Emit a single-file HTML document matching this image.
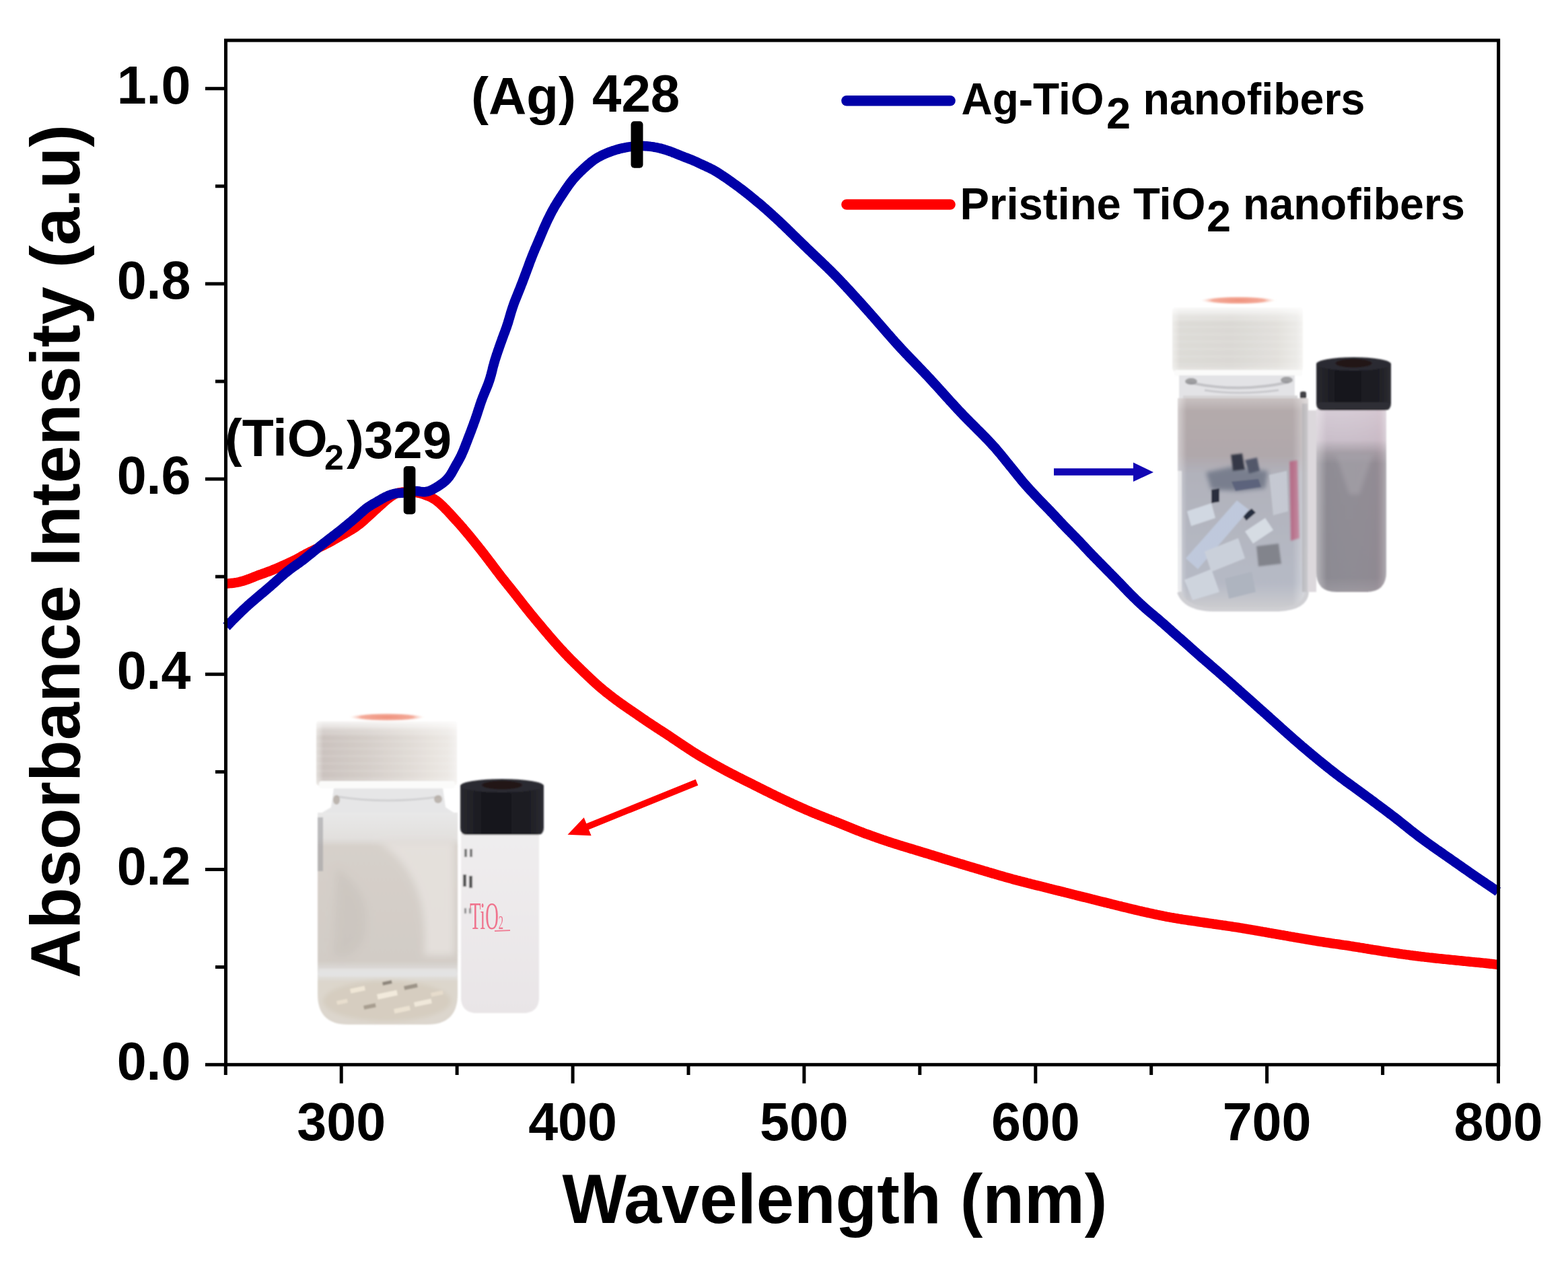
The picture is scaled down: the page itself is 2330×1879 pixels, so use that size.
<!DOCTYPE html>
<html><head><meta charset="utf-8"><title>Absorbance spectra</title>
<style>html,body{margin:0;padding:0;background:#fff;overflow:hidden;width:2330px;height:1879px;}svg{display:block;}</style>
</head><body>
<svg width="2330" height="1879" viewBox="0 0 2330 1879">
<rect width="2330" height="1879" fill="#ffffff"/>

<defs>
 <filter id="soft" x="-5%" y="-5%" width="110%" height="110%"><feGaussianBlur stdDeviation="1.2"/></filter>
 <filter id="soft3" x="-20%" y="-20%" width="140%" height="140%"><feGaussianBlur stdDeviation="3"/></filter>
 <filter id="soft6" x="-30%" y="-30%" width="160%" height="160%"><feGaussianBlur stdDeviation="6"/></filter>
 <linearGradient id="capg" x1="0" y1="0" x2="1" y2="0">
  <stop offset="0" stop-color="#eeedea"/><stop offset="0.06" stop-color="#dddbd7"/>
  <stop offset="0.45" stop-color="#dad8d4"/><stop offset="0.8" stop-color="#e2e0dc"/>
  <stop offset="0.95" stop-color="#ebeae7"/><stop offset="1" stop-color="#f5f4f2"/>
 </linearGradient>
 <linearGradient id="capgL" x1="0" y1="0" x2="1" y2="0">
  <stop offset="0" stop-color="#e4e0dc"/><stop offset="0.05" stop-color="#cbc3bf"/>
  <stop offset="0.35" stop-color="#d4cdc8"/><stop offset="0.7" stop-color="#e2ddd8"/>
  <stop offset="0.93" stop-color="#ece8e4"/><stop offset="1" stop-color="#f4f2f0"/>
 </linearGradient>
 <linearGradient id="capv" x1="0" y1="0" x2="0" y2="1">
  <stop offset="0" stop-color="#ffffff" stop-opacity="0.85"/><stop offset="0.14" stop-color="#ffffff" stop-opacity="0.25"/>
  <stop offset="0.25" stop-color="#ffffff" stop-opacity="0"/>
  <stop offset="0.88" stop-color="#ffffff" stop-opacity="0"/><stop offset="1" stop-color="#ffffff" stop-opacity="0.4"/>
 </linearGradient>
 <pattern id="hstr" width="10" height="11" patternUnits="userSpaceOnUse">
  <rect x="0" y="0" width="10" height="4" fill="#ffffff" opacity="0.07"/>
 </pattern>
 <pattern id="ribs" width="9" height="10" patternUnits="userSpaceOnUse">
  <rect width="9" height="10" fill="none"/><rect x="0" y="0" width="3" height="10" fill="#c4c1bc" opacity="0.10"/>
 </pattern>
 <linearGradient id="jarU" x1="0" y1="0" x2="0" y2="1">
  <stop offset="0" stop-color="#c6bebe"/><stop offset="0.06" stop-color="#b0a6a7"/>
  <stop offset="0.27" stop-color="#aca3a7"/><stop offset="0.36" stop-color="#adaeb8"/>
  <stop offset="0.88" stop-color="#b2b6c2"/><stop offset="1" stop-color="#cacacd"/>
 </linearGradient>
 <linearGradient id="jarUx" x1="0" y1="0" x2="1" y2="0">
  <stop offset="0" stop-color="#ffffff" stop-opacity="0.45"/><stop offset="0.07" stop-color="#ffffff" stop-opacity="0.05"/>
  <stop offset="0.88" stop-color="#ffffff" stop-opacity="0.05"/><stop offset="1" stop-color="#ffffff" stop-opacity="0.5"/>
 </linearGradient>
 <linearGradient id="vialU" x1="0" y1="0" x2="0" y2="1">
  <stop offset="0" stop-color="#d6ccd6"/><stop offset="0.17" stop-color="#cabfca"/>
  <stop offset="0.24" stop-color="#a29ca4"/><stop offset="0.3" stop-color="#8f8c94"/>
  <stop offset="0.92" stop-color="#8c8a92"/><stop offset="1" stop-color="#9a979e"/>
 </linearGradient>
 <linearGradient id="vialUx" x1="0" y1="0" x2="1" y2="0">
  <stop offset="0" stop-color="#ffffff" stop-opacity="0.35"/><stop offset="0.15" stop-color="#ffffff" stop-opacity="0"/>
  <stop offset="0.85" stop-color="#c08090" stop-opacity="0.06"/><stop offset="1" stop-color="#ffffff" stop-opacity="0.3"/>
 </linearGradient>
 <linearGradient id="jarL" x1="0" y1="0" x2="0" y2="1">
  <stop offset="0" stop-color="#e8e8e8"/><stop offset="0.12" stop-color="#e2e0de"/>
  <stop offset="0.16" stop-color="#d6d0ca"/><stop offset="0.7" stop-color="#d2ccc6"/>
  <stop offset="0.76" stop-color="#e2e2e2"/><stop offset="0.8" stop-color="#dcd6cc"/>
  <stop offset="1" stop-color="#dcd6ce"/>
 </linearGradient>
 <linearGradient id="vialL" x1="0" y1="0" x2="0" y2="1">
  <stop offset="0" stop-color="#efedee"/><stop offset="1" stop-color="#e9e5e7"/>
 </linearGradient>
 <radialGradient id="orng" cx="0.5" cy="0.5" r="0.5">
  <stop offset="0" stop-color="#ef8f7a"/><stop offset="0.7" stop-color="#f4ab9a"/><stop offset="1" stop-color="#fbe2da" stop-opacity="0"/>
 </radialGradient>
 <linearGradient id="capblk" x1="0" y1="0" x2="1" y2="0">
  <stop offset="0" stop-color="#2a2a30"/><stop offset="0.3" stop-color="#16161c"/><stop offset="0.8" stop-color="#1c1c22"/><stop offset="1" stop-color="#2c2c32"/>
 </linearGradient>
</defs>

<g filter="url(#soft)">
<ellipse cx="1840" cy="446.5" rx="56" ry="6" fill="url(#orng)"/>
<rect x="1742" y="457" width="194" height="96" rx="6" fill="url(#capg)"/>
<rect x="1742" y="457" width="194" height="96" rx="6" fill="url(#hstr)"/>
<rect x="1742" y="457" width="194" height="96" rx="6" fill="url(#capv)"/>
<rect x="1745" y="550" width="190" height="9" rx="3" fill="#fbfbfa"/>
<rect x="1752" y="558" width="172" height="34" fill="#e3e3e6"/>
<path d="M1765,568 Q1840,585 1915,568" stroke="#b9b9be" stroke-width="4" fill="none" opacity="0.8"/>
<path d="M1790,580 Q1840,588 1900,580" stroke="#c8c8cc" stroke-width="3" fill="none"/>
<rect x="1758" y="588" width="170" height="6" fill="#d6d4d6"/>
<rect x="1932" y="582" width="9" height="24" rx="3" fill="#2c2c32" opacity="0.9"/>
<ellipse cx="1770" cy="567" rx="9" ry="5" fill="#8e8e92" opacity="0.8"/>
<ellipse cx="1912" cy="565" rx="9" ry="5" fill="#8e8e92" opacity="0.8"/>
<path d="M1750,592 L1944,592 L1944,868 Q1944,904 1906,905 L1790,905 Q1750,904 1750,868 Z" fill="url(#jarU)"/>
<g>
<path d="M1792,702 L1830,694 L1884,700 L1880,726 L1840,730 L1800,728 Z" fill="#727888" filter="url(#soft3)"/>
<path d="M1829,676 L1846,674 L1850,698 L1832,700 Z" fill="#2a2e3c" filter="url(#soft)"/>
<path d="M1850,684 L1868,680 L1872,700 L1856,704 Z" fill="#4a5064" filter="url(#soft)"/>
<path d="M1800,728 L1812,726 L1812,746 L1800,748 Z" fill="#1e2232"/>
<path d="M1846,766 L1860,756 L1866,762 L1852,774 Z" fill="#1c2236"/>
<path d="M1830,716 L1870,712 L1874,724 L1836,730 Z" fill="#4c5470" opacity="0.8"/>
<path d="M1762,830 L1838,744 L1856,758 L1780,846 Z" fill="#bcc6da"/>
<path d="M1764,760 L1800,748 L1806,770 L1770,782 Z" fill="#cfd6e0"/>
<path d="M1850,790 L1880,770 L1892,788 L1862,808 Z" fill="#d4dae2"/>
<path d="M1790,820 L1840,800 L1850,830 L1800,850 Z" fill="#c8ced8"/>
<path d="M1760,862 L1800,846 L1812,880 L1772,892 Z" fill="#ccd2dc"/>
<path d="M1820,860 L1860,850 L1866,880 L1826,890 Z" fill="#aab0bc"/>
<path d="M1867,812 L1900,808 L1904,838 L1870,842 Z" fill="#7c7e86" filter="url(#soft)"/>
<path d="M1886,706 L1912,700 L1914,760 L1892,766 Z" fill="#c2c6d0"/>
<path d="M1916,686 L1928,684 L1931,800 L1918,804 Z" fill="#b45878" opacity="0.8" filter="url(#soft)"/>
<rect x="1935" y="600" width="8" height="280" fill="#8c8a90" opacity="0.7"/>
<rect x="1750" y="700" width="6" height="180" fill="#eeeef0" opacity="0.7"/>
</g>
<path d="M1750,592 L1944,592 L1944,868 Q1944,904 1906,905 L1790,905 Q1750,904 1750,868 Z" fill="url(#jarUx)"/>
<path d="M1752,880 Q1760,904 1800,906 L1900,906 Q1940,904 1942,880" stroke="#cfcfd3" stroke-width="6" fill="none"/>
<path d="M1956,608 L2060,608 L2060,850 Q2060,880 2030,880 L1986,880 Q1956,880 1956,850 Z" fill="url(#vialU)"/>
<path d="M1956,608 L2060,608 L2060,850 Q2060,880 2030,880 L1986,880 Q1956,880 1956,850 Z" fill="url(#vialUx)"/>
<path d="M1985,675 L2040,675 L2020,735 L2005,735 Z" fill="#a8a4ac" opacity="0.6" filter="url(#soft3)"/>
<rect x="1943" y="610" width="13" height="270" fill="#d8d4d8" opacity="0.9"/>
<path d="M1956,541 L1956,600 Q1956,610 1966,610 L2057,610 Q2067,610 2067,600 L2067,541 Z" fill="url(#capblk)"/>
<ellipse cx="2011.5" cy="541" rx="55.5" ry="10" fill="#2c2c33"/>
<ellipse cx="2011.5" cy="540" rx="27" ry="6.5" fill="#241418"/>
<rect x="1958" y="598" width="107" height="10" rx="4" fill="#2e2e34"/>
</g>
<g filter="url(#soft)">
<ellipse cx="575" cy="1066" rx="56" ry="6" fill="url(#orng)"/>
<rect x="470" y="1072" width="209" height="96" rx="5" fill="url(#capgL)"/>
<rect x="470" y="1072" width="209" height="96" rx="5" fill="url(#hstr)"/>
<rect x="470" y="1072" width="209" height="96" rx="5" fill="url(#capv)"/>
<rect x="474" y="1161" width="202" height="11" rx="4" fill="#fbfbfa"/>
<path d="M496,1172 L658,1172 L662,1200 L680,1212 L472,1212 L492,1200 Z" fill="#e6e6e7"/>
<path d="M500,1184 Q575,1196 655,1184" stroke="#d0d0d2" stroke-width="3" fill="none"/>
<ellipse cx="500" cy="1189" rx="5" ry="7" fill="#b4aca4" opacity="0.85"/>
<ellipse cx="651" cy="1188" rx="6" ry="6" fill="#b4aca4" opacity="0.85"/>
<path d="M472,1208 L680,1208 L680,1478 Q680,1523 635,1523 L517,1523 Q472,1523 472,1478 Z" fill="url(#jarL)"/>
<path d="M560,1250 Q640,1300 630,1420 L675,1420 L675,1250 Z" fill="#e6e2de" opacity="0.9" filter="url(#soft6)"/>
<path d="M500,1290 Q560,1330 540,1400 Q520,1430 495,1420 Z" fill="#c8c2bc" opacity="0.6" filter="url(#soft6)"/>
<ellipse cx="575" cy="1488" rx="95" ry="30" fill="#d6cdc0" filter="url(#soft3)"/>
<rect x="520" y="1470" width="22" height="7" fill="#efe6d6" transform="rotate(-12 520 1470)"/>
<rect x="560" y="1478" width="30" height="8" fill="#f2eadc" transform="rotate(-12 560 1478)"/>
<rect x="600" y="1466" width="20" height="6" fill="#9d9488" transform="rotate(-12 600 1466)"/>
<rect x="615" y="1490" width="26" height="7" fill="#f0e8da" transform="rotate(-12 615 1490)"/>
<rect x="540" y="1495" width="18" height="6" fill="#a89e90" transform="rotate(-12 540 1495)"/>
<rect x="585" y="1500" width="24" height="7" fill="#ebe2d2" transform="rotate(-12 585 1500)"/>
<rect x="500" y="1488" width="16" height="6" fill="#e8dece" transform="rotate(-12 500 1488)"/>
<rect x="640" y="1476" width="18" height="6" fill="#e6dccc" transform="rotate(-12 640 1476)"/>
<rect x="568" y="1460" width="14" height="5" fill="#8e867c" transform="rotate(-12 568 1460)"/>
<path d="M474,1440 L678,1440 L678,1452 L474,1452 Z" fill="#e4e4e4" opacity="0.7"/>
<rect x="472" y="1215" width="8" height="80" fill="#a0a0a4" opacity="0.6"/>
<path d="M685,1238 L801,1238 L801,1482 Q801,1506 777,1506 L709,1506 Q685,1506 685,1482 Z" fill="url(#vialL)"/>
<rect x="690" y="1262" width="4" height="12" fill="#777"/><rect x="698" y="1262" width="4" height="12" fill="#777"/>
<rect x="688" y="1300" width="5" height="18" fill="#555"/><rect x="697" y="1302" width="5" height="18" fill="#555"/>
<rect x="690" y="1350" width="3" height="8" fill="#888"/><rect x="697" y="1350" width="3" height="8" fill="#888"/>
<path d="M684,1168 L684,1231 Q684,1241 694,1241 L798,1241 Q808,1241 808,1231 L808,1168 Z" fill="url(#capblk)"/>
<ellipse cx="746" cy="1168" rx="62" ry="10" fill="#2c2c33"/>
<ellipse cx="746" cy="1167" rx="30" ry="6.5" fill="#241418"/>
</g>
<text x="698" y="1381" font-family="'Liberation Serif', serif" font-size="56" fill="#f0607e" opacity="0.85" textLength="50" lengthAdjust="spacingAndGlyphs">TiO<tspan font-size="30" dy="0">2</tspan></text>
<path d="M735,1384 L758,1383" stroke="#f06a86" stroke-width="2" opacity="0.8"/>
<path d="M336.0,867.6 L338.0,867.4 L340.0,867.3 L342.0,867.1 L344.0,867.0 L346.0,866.7 L347.9,866.5 L349.9,866.2 L351.9,865.9 L353.8,865.5 L355.8,865.1 L357.7,864.6 L359.6,864.1 L361.6,863.5 L363.5,862.9 L365.4,862.2 L367.2,861.6 L369.1,860.9 L371.0,860.2 L372.9,859.4 L374.7,858.7 L376.6,858.0 L378.4,857.2 L380.3,856.5 L382.2,855.8 L384.0,855.1 L385.9,854.4 L387.8,853.7 L389.7,853.0 L391.6,852.4 L393.4,851.7 L395.3,851.0 L397.2,850.3 L399.1,849.6 L400.9,848.9 L402.8,848.2 L404.7,847.5 L406.5,846.7 L408.4,845.9 L410.2,845.2 L412.1,844.4 L413.9,843.6 L415.7,842.8 L417.6,842.0 L419.4,841.2 L421.2,840.4 L423.0,839.6 L424.9,838.8 L426.7,837.9 L428.5,837.1 L430.3,836.2 L432.1,835.4 L433.9,834.6 L435.7,833.7 L437.5,832.8 L439.3,831.9 L441.1,831.0 L442.9,830.1 L444.6,829.1 L446.4,828.1 L448.1,827.1 L449.8,826.1 L451.6,825.2 L453.3,824.2 L455.1,823.2 L456.9,822.3 L458.6,821.4 L460.4,820.5 L462.2,819.6 L464.0,818.8 L465.8,817.9 L467.6,817.0 L469.4,816.1 L471.2,815.3 L473.0,814.4 L474.8,813.5 L476.6,812.6 L478.4,811.8 L480.2,810.9 L482.0,810.0 L483.8,809.1 L485.6,808.2 L487.3,807.3 L489.1,806.4 L490.9,805.4 L492.6,804.5 L494.4,803.5 L496.1,802.5 L497.9,801.5 L499.6,800.5 L501.3,799.5 L503.1,798.5 L504.8,797.5 L506.5,796.5 L508.3,795.5 L510.0,794.5 L511.7,793.6 L513.5,792.6 L515.2,791.6 L517.0,790.6 L518.7,789.6 L520.4,788.6 L522.1,787.6 L523.8,786.5 L525.5,785.4 L527.2,784.3 L528.8,783.2 L530.4,782.0 L532.0,780.8 L533.6,779.6 L535.2,778.4 L536.7,777.1 L538.3,775.8 L539.8,774.5 L541.3,773.2 L542.8,771.8 L544.2,770.5 L545.7,769.1 L547.2,767.8 L548.7,766.4 L550.1,765.1 L551.6,763.7 L553.1,762.4 L554.6,761.0 L556.0,759.7 L557.5,758.3 L559.0,757.0 L560.5,755.6 L561.9,754.3 L563.4,752.9 L564.9,751.6 L566.4,750.2 L567.9,748.9 L569.3,747.6 L570.8,746.2 L572.3,744.9 L573.9,743.6 L575.4,742.4 L577.0,741.1 L578.6,739.9 L580.2,738.7 L581.8,737.6 L583.5,736.5 L585.2,735.5 L586.9,734.5 L588.7,733.7 L590.6,733.1 L592.4,732.5 L594.4,732.1 L596.3,731.8 L598.3,731.5 L600.3,731.4 L602.3,731.2 L604.3,731.1 L606.3,731.1 L608.3,731.1 L610.3,731.1 L612.2,731.3 L614.2,731.4 L616.2,731.7 L618.2,732.0 L620.1,732.4 L622.1,732.8 L624.0,733.3 L625.9,733.8 L627.9,734.4 L629.8,735.0 L631.6,735.7 L633.5,736.4 L635.4,737.1 L637.2,737.8 L639.1,738.6 L640.9,739.5 L642.6,740.4 L644.3,741.4 L646.0,742.5 L647.7,743.6 L649.3,744.8 L650.8,746.0 L652.3,747.3 L653.8,748.6 L655.3,750.0 L656.8,751.4 L658.2,752.7 L659.6,754.1 L661.0,755.6 L662.4,757.0 L663.8,758.4 L665.2,759.9 L666.6,761.4 L667.9,762.8 L669.3,764.3 L670.6,765.8 L672.0,767.3 L673.3,768.7 L674.7,770.2 L676.0,771.7 L677.4,773.2 L678.7,774.6 L680.0,776.1 L681.4,777.6 L682.7,779.1 L684.0,780.6 L685.3,782.1 L686.7,783.6 L688.0,785.1 L689.3,786.7 L690.6,788.2 L691.9,789.7 L693.2,791.2 L694.4,792.8 L695.7,794.3 L697.0,795.8 L698.3,797.4 L699.5,798.9 L700.8,800.5 L702.1,802.0 L703.3,803.6 L704.6,805.1 L705.8,806.7 L707.1,808.2 L708.3,809.8 L709.6,811.4 L710.8,812.9 L712.1,814.5 L713.3,816.1 L714.6,817.6 L715.8,819.2 L717.0,820.8 L718.3,822.4 L719.5,823.9 L720.7,825.5 L721.9,827.1 L723.2,828.7 L724.4,830.3 L725.6,831.9 L726.8,833.5 L728.0,835.1 L729.2,836.6 L730.4,838.2 L731.6,839.8 L732.8,841.4 L734.0,843.0 L735.2,844.6 L736.4,846.2 L737.6,847.8 L738.8,849.4 L740.1,851.0 L741.3,852.6 L742.5,854.2 L743.7,855.8 L744.9,857.4 L746.2,858.9 L747.4,860.5 L748.6,862.1 L749.9,863.6 L751.1,865.2 L752.4,866.7 L753.7,868.3 L754.9,869.9 L756.2,871.4 L757.4,873.0 L758.7,874.5 L759.9,876.1 L761.2,877.7 L762.4,879.2 L763.6,880.8 L764.9,882.4 L766.1,883.9 L767.4,885.5 L768.6,887.1 L769.8,888.7 L771.1,890.2 L772.3,891.8 L773.5,893.4 L774.8,895.0 L776.0,896.5 L777.2,898.1 L778.5,899.7 L779.7,901.2 L781.0,902.8 L782.2,904.4 L783.5,905.9 L784.7,907.5 L786.0,909.0 L787.2,910.6 L788.5,912.2 L789.7,913.7 L791.0,915.3 L792.3,916.8 L793.5,918.3 L794.8,919.9 L796.1,921.4 L797.4,923.0 L798.6,924.5 L799.9,926.0 L801.2,927.6 L802.5,929.1 L803.8,930.6 L805.1,932.2 L806.4,933.7 L807.6,935.2 L808.9,936.8 L810.2,938.3 L811.5,939.8 L812.8,941.3 L814.1,942.8 L815.4,944.4 L816.7,945.9 L818.1,947.4 L819.4,948.9 L820.7,950.4 L822.0,951.9 L823.3,953.4 L824.6,954.9 L825.9,956.4 L827.3,957.9 L828.6,959.4 L829.9,960.9 L831.3,962.4 L832.6,963.9 L834.0,965.4 L835.3,966.8 L836.7,968.3 L838.0,969.8 L839.4,971.2 L840.8,972.7 L842.2,974.1 L843.5,975.6 L844.9,977.0 L846.3,978.4 L847.7,979.9 L849.1,981.3 L850.6,982.7 L852.0,984.1 L853.4,985.5 L854.8,986.9 L856.2,988.3 L857.7,989.7 L859.1,991.1 L860.5,992.5 L862.0,993.9 L863.4,995.3 L864.8,996.7 L866.3,998.1 L867.7,999.5 L869.1,1000.9 L870.6,1002.3 L872.0,1003.6 L873.5,1005.0 L874.9,1006.4 L876.4,1007.8 L877.8,1009.1 L879.3,1010.5 L880.8,1011.9 L882.2,1013.2 L883.7,1014.6 L885.2,1015.9 L886.7,1017.2 L888.2,1018.6 L889.7,1019.9 L891.2,1021.2 L892.7,1022.5 L894.3,1023.8 L895.8,1025.1 L897.3,1026.3 L898.9,1027.6 L900.4,1028.9 L902.0,1030.1 L903.6,1031.3 L905.1,1032.6 L906.7,1033.8 L908.3,1035.0 L909.9,1036.3 L911.5,1037.5 L913.1,1038.7 L914.7,1039.9 L916.3,1041.1 L917.9,1042.3 L919.5,1043.4 L921.1,1044.6 L922.7,1045.8 L924.4,1046.9 L926.0,1048.1 L927.7,1049.2 L929.3,1050.4 L930.9,1051.5 L932.6,1052.6 L934.2,1053.8 L935.9,1054.9 L937.5,1056.0 L939.2,1057.1 L940.8,1058.3 L942.5,1059.4 L944.1,1060.5 L945.8,1061.7 L947.4,1062.8 L949.1,1064.0 L950.7,1065.1 L952.4,1066.2 L954.0,1067.4 L955.7,1068.5 L957.3,1069.6 L959.0,1070.7 L960.6,1071.9 L962.3,1073.0 L963.9,1074.1 L965.6,1075.2 L967.3,1076.3 L968.9,1077.4 L970.6,1078.5 L972.3,1079.6 L974.0,1080.7 L975.6,1081.8 L977.3,1082.9 L979.0,1084.0 L980.7,1085.1 L982.3,1086.1 L984.0,1087.2 L985.7,1088.3 L987.4,1089.4 L989.1,1090.5 L990.7,1091.6 L992.4,1092.7 L994.1,1093.8 L995.7,1094.9 L997.4,1096.0 L999.0,1097.2 L1000.7,1098.3 L1002.4,1099.4 L1004.0,1100.5 L1005.7,1101.6 L1007.3,1102.7 L1009.0,1103.9 L1010.7,1105.0 L1012.3,1106.1 L1014.0,1107.2 L1015.6,1108.3 L1017.3,1109.4 L1019.0,1110.5 L1020.6,1111.6 L1022.3,1112.7 L1024.0,1113.8 L1025.7,1114.9 L1027.3,1116.0 L1029.0,1117.1 L1030.7,1118.2 L1032.4,1119.2 L1034.1,1120.3 L1035.8,1121.3 L1037.5,1122.4 L1039.2,1123.4 L1040.9,1124.4 L1042.7,1125.5 L1044.4,1126.5 L1046.1,1127.5 L1047.8,1128.5 L1049.5,1129.5 L1051.3,1130.5 L1053.0,1131.5 L1054.7,1132.5 L1056.5,1133.5 L1058.2,1134.5 L1060.0,1135.5 L1061.7,1136.5 L1063.5,1137.4 L1065.2,1138.4 L1067.0,1139.4 L1068.7,1140.3 L1070.5,1141.3 L1072.2,1142.3 L1074.0,1143.2 L1075.7,1144.2 L1077.5,1145.1 L1079.3,1146.1 L1081.0,1147.0 L1082.8,1147.9 L1084.6,1148.9 L1086.3,1149.8 L1088.1,1150.7 L1089.9,1151.6 L1091.7,1152.5 L1093.4,1153.4 L1095.2,1154.4 L1097.0,1155.3 L1098.8,1156.2 L1100.6,1157.1 L1102.4,1158.0 L1104.2,1158.9 L1105.9,1159.8 L1107.7,1160.7 L1109.5,1161.6 L1111.3,1162.4 L1113.1,1163.3 L1114.9,1164.2 L1116.7,1165.1 L1118.5,1166.0 L1120.2,1166.9 L1122.0,1167.8 L1123.8,1168.7 L1125.6,1169.6 L1127.4,1170.5 L1129.2,1171.4 L1131.0,1172.3 L1132.8,1173.2 L1134.6,1174.1 L1136.3,1175.0 L1138.1,1175.9 L1139.9,1176.7 L1141.7,1177.6 L1143.5,1178.5 L1145.3,1179.4 L1147.1,1180.3 L1148.9,1181.1 L1150.7,1182.0 L1152.5,1182.9 L1154.3,1183.8 L1156.1,1184.6 L1157.9,1185.5 L1159.7,1186.3 L1161.5,1187.2 L1163.3,1188.1 L1165.2,1188.9 L1167.0,1189.8 L1168.8,1190.6 L1170.6,1191.5 L1172.4,1192.3 L1174.2,1193.1 L1176.0,1194.0 L1177.8,1194.8 L1179.7,1195.7 L1181.5,1196.5 L1183.3,1197.3 L1185.1,1198.2 L1186.9,1199.0 L1188.8,1199.8 L1190.6,1200.6 L1192.4,1201.4 L1194.2,1202.2 L1196.1,1203.0 L1197.9,1203.8 L1199.7,1204.6 L1201.6,1205.4 L1203.4,1206.2 L1205.3,1207.0 L1207.1,1207.7 L1209.0,1208.5 L1210.8,1209.3 L1212.7,1210.0 L1214.5,1210.8 L1216.4,1211.5 L1218.2,1212.3 L1220.1,1213.0 L1221.9,1213.7 L1223.8,1214.5 L1225.7,1215.2 L1227.5,1215.9 L1229.4,1216.7 L1231.2,1217.4 L1233.1,1218.1 L1235.0,1218.9 L1236.8,1219.6 L1238.7,1220.4 L1240.5,1221.1 L1242.4,1221.8 L1244.3,1222.6 L1246.1,1223.3 L1248.0,1224.1 L1249.8,1224.8 L1251.7,1225.6 L1253.5,1226.3 L1255.4,1227.1 L1257.2,1227.8 L1259.1,1228.6 L1260.9,1229.3 L1262.8,1230.1 L1264.6,1230.8 L1266.5,1231.6 L1268.4,1232.3 L1270.2,1233.1 L1272.1,1233.8 L1273.9,1234.6 L1275.8,1235.3 L1277.7,1236.0 L1279.5,1236.7 L1281.4,1237.4 L1283.3,1238.2 L1285.1,1238.9 L1287.0,1239.6 L1288.9,1240.2 L1290.8,1240.9 L1292.6,1241.6 L1294.5,1242.3 L1296.4,1243.0 L1298.3,1243.6 L1300.2,1244.3 L1302.1,1245.0 L1303.9,1245.6 L1305.8,1246.3 L1307.7,1247.0 L1309.6,1247.6 L1311.5,1248.3 L1313.4,1248.9 L1315.3,1249.5 L1317.2,1250.2 L1319.1,1250.8 L1321.0,1251.4 L1322.9,1252.1 L1324.8,1252.7 L1326.7,1253.3 L1328.6,1253.9 L1330.5,1254.5 L1332.4,1255.1 L1334.3,1255.7 L1336.2,1256.3 L1338.1,1256.9 L1340.0,1257.5 L1342.0,1258.1 L1343.9,1258.7 L1345.8,1259.3 L1347.7,1259.8 L1349.6,1260.4 L1351.5,1261.0 L1353.4,1261.6 L1355.4,1262.1 L1357.3,1262.7 L1359.2,1263.3 L1361.1,1263.9 L1363.0,1264.5 L1364.9,1265.0 L1366.8,1265.6 L1368.8,1266.2 L1370.7,1266.8 L1372.6,1267.4 L1374.5,1268.0 L1376.4,1268.6 L1378.3,1269.1 L1380.2,1269.7 L1382.1,1270.3 L1384.1,1270.9 L1386.0,1271.5 L1387.9,1272.1 L1389.8,1272.7 L1391.7,1273.3 L1393.6,1273.8 L1395.5,1274.4 L1397.4,1275.0 L1399.3,1275.6 L1401.3,1276.2 L1403.2,1276.8 L1405.1,1277.4 L1407.0,1278.0 L1408.9,1278.5 L1410.8,1279.1 L1412.7,1279.7 L1414.6,1280.3 L1416.6,1280.9 L1418.5,1281.5 L1420.4,1282.0 L1422.3,1282.6 L1424.2,1283.2 L1426.1,1283.8 L1428.0,1284.4 L1430.0,1284.9 L1431.9,1285.5 L1433.8,1286.1 L1435.7,1286.7 L1437.6,1287.3 L1439.5,1287.8 L1441.4,1288.4 L1443.4,1289.0 L1445.3,1289.6 L1447.2,1290.1 L1449.1,1290.7 L1451.0,1291.3 L1452.9,1291.8 L1454.9,1292.4 L1456.8,1293.0 L1458.7,1293.5 L1460.6,1294.1 L1462.5,1294.7 L1464.4,1295.2 L1466.4,1295.8 L1468.3,1296.4 L1470.2,1296.9 L1472.1,1297.5 L1474.0,1298.1 L1476.0,1298.6 L1477.9,1299.2 L1479.8,1299.8 L1481.7,1300.3 L1483.6,1300.9 L1485.6,1301.5 L1487.5,1302.0 L1489.4,1302.6 L1491.3,1303.1 L1493.2,1303.7 L1495.2,1304.2 L1497.1,1304.7 L1499.0,1305.3 L1500.9,1305.8 L1502.9,1306.3 L1504.8,1306.9 L1506.7,1307.4 L1508.7,1307.9 L1510.6,1308.4 L1512.5,1308.9 L1514.5,1309.4 L1516.4,1309.9 L1518.3,1310.4 L1520.3,1310.9 L1522.2,1311.4 L1524.2,1311.9 L1526.1,1312.4 L1528.0,1312.9 L1530.0,1313.4 L1531.9,1313.9 L1533.8,1314.4 L1535.8,1314.9 L1537.7,1315.4 L1539.7,1315.9 L1541.6,1316.4 L1543.5,1316.8 L1545.5,1317.3 L1547.4,1317.8 L1549.4,1318.3 L1551.3,1318.8 L1553.2,1319.3 L1555.2,1319.8 L1557.1,1320.3 L1559.1,1320.8 L1561.0,1321.2 L1562.9,1321.7 L1564.9,1322.2 L1566.8,1322.7 L1568.8,1323.2 L1570.7,1323.7 L1572.6,1324.1 L1574.6,1324.6 L1576.5,1325.1 L1578.5,1325.6 L1580.4,1326.1 L1582.3,1326.6 L1584.3,1327.0 L1586.2,1327.5 L1588.2,1328.0 L1590.1,1328.5 L1592.0,1329.0 L1594.0,1329.5 L1595.9,1330.0 L1597.9,1330.4 L1599.8,1330.9 L1601.7,1331.4 L1603.7,1331.9 L1605.6,1332.4 L1607.6,1332.9 L1609.5,1333.4 L1611.4,1333.8 L1613.4,1334.3 L1615.3,1334.8 L1617.3,1335.3 L1619.2,1335.8 L1621.1,1336.3 L1623.1,1336.8 L1625.0,1337.2 L1627.0,1337.7 L1628.9,1338.2 L1630.8,1338.7 L1632.8,1339.2 L1634.7,1339.7 L1636.7,1340.2 L1638.6,1340.7 L1640.5,1341.1 L1642.5,1341.6 L1644.4,1342.1 L1646.4,1342.6 L1648.3,1343.1 L1650.2,1343.6 L1652.2,1344.1 L1654.1,1344.5 L1656.1,1345.0 L1658.0,1345.5 L1659.9,1346.0 L1661.9,1346.5 L1663.8,1346.9 L1665.8,1347.4 L1667.7,1347.9 L1669.7,1348.4 L1671.6,1348.8 L1673.5,1349.3 L1675.5,1349.8 L1677.4,1350.3 L1679.4,1350.7 L1681.3,1351.2 L1683.3,1351.7 L1685.2,1352.1 L1687.2,1352.6 L1689.1,1353.1 L1691.0,1353.5 L1693.0,1354.0 L1694.9,1354.4 L1696.9,1354.9 L1698.8,1355.3 L1700.8,1355.8 L1702.7,1356.2 L1704.7,1356.6 L1706.7,1357.1 L1708.6,1357.5 L1710.6,1357.9 L1712.5,1358.3 L1714.5,1358.8 L1716.4,1359.2 L1718.4,1359.6 L1720.3,1360.0 L1722.3,1360.4 L1724.3,1360.8 L1726.2,1361.2 L1728.2,1361.6 L1730.1,1362.0 L1732.1,1362.4 L1734.1,1362.8 L1736.0,1363.1 L1738.0,1363.5 L1740.0,1363.9 L1741.9,1364.2 L1743.9,1364.5 L1745.9,1364.9 L1747.8,1365.2 L1749.8,1365.5 L1751.8,1365.9 L1753.8,1366.2 L1755.7,1366.5 L1757.7,1366.8 L1759.7,1367.1 L1761.7,1367.4 L1763.7,1367.7 L1765.6,1368.0 L1767.6,1368.3 L1769.6,1368.5 L1771.6,1368.8 L1773.5,1369.1 L1775.5,1369.4 L1777.5,1369.7 L1779.5,1370.0 L1781.5,1370.3 L1783.4,1370.6 L1785.4,1370.9 L1787.4,1371.2 L1789.4,1371.5 L1791.4,1371.8 L1793.3,1372.0 L1795.3,1372.3 L1797.3,1372.6 L1799.3,1372.9 L1801.3,1373.2 L1803.2,1373.5 L1805.2,1373.7 L1807.2,1374.0 L1809.2,1374.3 L1811.2,1374.6 L1813.1,1374.9 L1815.1,1375.2 L1817.1,1375.5 L1819.1,1375.7 L1821.1,1376.0 L1823.0,1376.3 L1825.0,1376.6 L1827.0,1376.9 L1829.0,1377.2 L1830.9,1377.5 L1832.9,1377.8 L1834.9,1378.1 L1836.9,1378.4 L1838.9,1378.7 L1840.8,1379.0 L1842.8,1379.3 L1844.8,1379.6 L1846.7,1380.0 L1848.7,1380.3 L1850.7,1380.6 L1852.7,1381.0 L1854.6,1381.3 L1856.6,1381.6 L1858.6,1382.0 L1860.6,1382.3 L1862.5,1382.6 L1864.5,1383.0 L1866.5,1383.3 L1868.4,1383.7 L1870.4,1384.0 L1872.4,1384.4 L1874.3,1384.7 L1876.3,1385.1 L1878.3,1385.4 L1880.3,1385.7 L1882.2,1386.1 L1884.2,1386.4 L1886.2,1386.8 L1888.1,1387.1 L1890.1,1387.5 L1892.1,1387.8 L1894.0,1388.1 L1896.0,1388.5 L1898.0,1388.8 L1900.0,1389.2 L1901.9,1389.5 L1903.9,1389.9 L1905.9,1390.2 L1907.8,1390.5 L1909.8,1390.9 L1911.8,1391.2 L1913.8,1391.6 L1915.7,1391.9 L1917.7,1392.3 L1919.7,1392.6 L1921.6,1392.9 L1923.6,1393.3 L1925.6,1393.6 L1927.5,1394.0 L1929.5,1394.3 L1931.5,1394.6 L1933.5,1395.0 L1935.4,1395.3 L1937.4,1395.6 L1939.4,1396.0 L1941.3,1396.3 L1943.3,1396.7 L1945.3,1397.0 L1947.3,1397.3 L1949.2,1397.7 L1951.2,1398.0 L1953.2,1398.3 L1955.2,1398.6 L1957.1,1399.0 L1959.1,1399.3 L1961.1,1399.6 L1963.0,1399.9 L1965.0,1400.2 L1967.0,1400.5 L1969.0,1400.8 L1971.0,1401.1 L1972.9,1401.4 L1974.9,1401.7 L1976.9,1402.0 L1978.9,1402.3 L1980.9,1402.6 L1982.8,1402.9 L1984.8,1403.1 L1986.8,1403.4 L1988.8,1403.7 L1990.8,1404.0 L1992.7,1404.3 L1994.7,1404.6 L1996.7,1404.9 L1998.7,1405.1 L2000.6,1405.4 L2002.6,1405.7 L2004.6,1406.0 L2006.6,1406.4 L2008.6,1406.7 L2010.5,1407.0 L2012.5,1407.3 L2014.5,1407.6 L2016.5,1407.9 L2018.4,1408.2 L2020.4,1408.6 L2022.4,1408.9 L2024.3,1409.2 L2026.3,1409.5 L2028.3,1409.9 L2030.3,1410.2 L2032.2,1410.5 L2034.2,1410.8 L2036.2,1411.2 L2038.2,1411.5 L2040.1,1411.8 L2042.1,1412.1 L2044.1,1412.4 L2046.1,1412.7 L2048.0,1413.0 L2050.0,1413.3 L2052.0,1413.7 L2054.0,1414.0 L2055.9,1414.3 L2057.9,1414.6 L2059.9,1414.9 L2061.9,1415.2 L2063.9,1415.5 L2065.8,1415.8 L2067.8,1416.1 L2069.8,1416.4 L2071.8,1416.6 L2073.7,1416.9 L2075.7,1417.2 L2077.7,1417.5 L2079.7,1417.8 L2081.7,1418.1 L2083.6,1418.4 L2085.6,1418.6 L2087.6,1418.9 L2089.6,1419.2 L2091.6,1419.4 L2093.6,1419.7 L2095.5,1420.0 L2097.5,1420.2 L2099.5,1420.5 L2101.5,1420.7 L2103.5,1421.0 L2105.5,1421.2 L2107.4,1421.5 L2109.4,1421.7 L2111.4,1422.0 L2113.4,1422.2 L2115.4,1422.4 L2117.4,1422.7 L2119.4,1422.9 L2121.3,1423.1 L2123.3,1423.4 L2125.3,1423.6 L2127.3,1423.8 L2129.3,1424.0 L2131.3,1424.3 L2133.3,1424.5 L2135.3,1424.7 L2137.2,1424.9 L2139.2,1425.1 L2141.2,1425.3 L2143.2,1425.5 L2145.2,1425.7 L2147.2,1425.9 L2149.2,1426.1 L2151.2,1426.3 L2153.2,1426.5 L2155.1,1426.7 L2157.1,1426.9 L2159.1,1427.1 L2161.1,1427.3 L2163.1,1427.5 L2165.1,1427.7 L2167.1,1427.9 L2169.1,1428.1 L2171.1,1428.3 L2173.1,1428.5 L2175.1,1428.7 L2177.0,1428.9 L2179.0,1429.1 L2181.0,1429.3 L2183.0,1429.5 L2185.0,1429.7 L2187.0,1429.9 L2189.0,1430.1 L2191.0,1430.3 L2193.0,1430.4 L2195.0,1430.6 L2196.9,1430.8 L2198.9,1431.0 L2200.9,1431.2 L2202.9,1431.4 L2204.9,1431.6 L2206.9,1431.8 L2208.9,1432.0 L2210.9,1432.2 L2212.9,1432.5 L2214.9,1432.7 L2216.8,1432.9 L2218.8,1433.1 L2220.8,1433.4 L2222.8,1433.6 L2224.8,1433.9 L2226.0,1434.0" stroke="#ff0000" stroke-width="14.5" fill="none" stroke-linejoin="round" stroke-linecap="butt"/>
<path d="M336.5,931.5 L337.9,930.1 L339.3,928.6 L340.6,927.2 L342.0,925.7 L343.4,924.3 L344.8,922.9 L346.2,921.4 L347.6,920.0 L349.1,918.6 L350.5,917.2 L351.9,915.8 L353.3,914.4 L354.7,913.0 L356.2,911.6 L357.6,910.2 L359.0,908.8 L360.5,907.4 L361.9,906.0 L363.4,904.7 L364.9,903.3 L366.3,902.0 L367.8,900.6 L369.3,899.3 L370.8,897.9 L372.3,896.6 L373.8,895.3 L375.3,894.0 L376.8,892.7 L378.3,891.4 L379.9,890.1 L381.4,888.8 L382.9,887.5 L384.4,886.2 L386.0,884.9 L387.5,883.6 L389.0,882.3 L390.6,881.0 L392.1,879.8 L393.6,878.5 L395.1,877.2 L396.7,875.9 L398.2,874.6 L399.7,873.3 L401.2,872.0 L402.7,870.7 L404.2,869.3 L405.7,868.0 L407.2,866.7 L408.7,865.4 L410.2,864.0 L411.7,862.7 L413.2,861.3 L414.6,860.0 L416.1,858.7 L417.6,857.3 L419.1,856.0 L420.7,854.7 L422.2,853.4 L423.7,852.2 L425.3,850.9 L426.8,849.6 L428.4,848.4 L430.0,847.2 L431.6,845.9 L433.2,844.7 L434.8,843.5 L436.4,842.4 L438.0,841.2 L439.7,840.1 L441.3,838.9 L442.9,837.8 L444.6,836.7 L446.2,835.5 L447.8,834.3 L449.4,833.1 L451.0,831.9 L452.6,830.7 L454.2,829.4 L455.7,828.2 L457.3,826.9 L458.8,825.7 L460.4,824.4 L461.9,823.1 L463.5,821.9 L465.0,820.6 L466.6,819.3 L468.1,818.1 L469.7,816.8 L471.2,815.5 L472.8,814.3 L474.3,813.0 L475.9,811.7 L477.4,810.5 L479.0,809.2 L480.5,808.0 L482.1,806.7 L483.7,805.5 L485.3,804.3 L486.8,803.0 L488.4,801.8 L490.0,800.6 L491.6,799.4 L493.2,798.2 L494.8,796.9 L496.3,795.7 L497.9,794.5 L499.5,793.3 L501.1,792.0 L502.7,790.8 L504.2,789.6 L505.8,788.3 L507.3,787.1 L508.9,785.8 L510.5,784.6 L512.0,783.3 L513.6,782.0 L515.1,780.8 L516.7,779.5 L518.2,778.2 L519.7,776.9 L521.3,775.7 L522.8,774.4 L524.3,773.1 L525.9,771.8 L527.4,770.5 L528.9,769.2 L530.4,767.9 L531.9,766.5 L533.4,765.2 L534.8,763.9 L536.3,762.5 L537.8,761.2 L539.3,759.9 L540.8,758.6 L542.4,757.3 L543.9,756.0 L545.5,754.8 L547.2,753.7 L548.8,752.6 L550.5,751.5 L552.2,750.5 L553.9,749.4 L555.7,748.4 L557.4,747.4 L559.1,746.4 L560.8,745.4 L562.6,744.4 L564.3,743.4 L566.0,742.4 L567.8,741.4 L569.5,740.5 L571.3,739.5 L573.1,738.6 L574.9,737.8 L576.7,737.0 L578.5,736.2 L580.4,735.5 L582.3,734.9 L584.2,734.3 L586.1,733.9 L588.1,733.5 L590.0,733.2 L592.0,733.1 L594.0,732.9 L596.0,732.8 L598.0,732.7 L599.9,732.6 L601.9,732.4 L603.9,732.1 L605.9,731.8 L607.8,731.4 L609.8,731.0 L611.7,730.6 L613.7,730.3 L615.6,730.0 L617.5,729.9 L619.4,730.0 L621.3,730.2 L623.2,730.5 L625.1,730.9 L627.1,731.1 L629.0,731.2 L631.0,731.2 L632.9,731.0 L634.8,730.7 L636.7,730.2 L638.6,729.5 L640.4,728.8 L642.2,727.9 L644.0,727.0 L645.7,726.0 L647.5,725.0 L649.2,724.0 L650.9,723.0 L652.6,721.9 L654.2,720.8 L655.8,719.6 L657.5,718.5 L659.0,717.2 L660.6,716.0 L662.1,714.6 L663.5,713.3 L664.9,711.8 L666.1,710.3 L667.4,708.8 L668.5,707.1 L669.6,705.5 L670.7,703.8 L671.7,702.1 L672.7,700.3 L673.6,698.6 L674.6,696.8 L675.6,695.1 L676.5,693.3 L677.5,691.6 L678.5,689.8 L679.5,688.1 L680.5,686.4 L681.5,684.6 L682.4,682.9 L683.4,681.1 L684.3,679.3 L685.2,677.5 L686.0,675.7 L686.8,673.9 L687.6,672.1 L688.4,670.2 L689.2,668.4 L689.9,666.5 L690.7,664.7 L691.4,662.8 L692.1,661.0 L692.8,659.1 L693.6,657.2 L694.3,655.4 L695.0,653.5 L695.7,651.6 L696.4,649.8 L697.1,647.9 L697.9,646.0 L698.6,644.1 L699.3,642.3 L700.0,640.4 L700.7,638.5 L701.4,636.7 L702.1,634.8 L702.8,632.9 L703.5,631.0 L704.1,629.1 L704.8,627.3 L705.5,625.4 L706.2,623.5 L706.8,621.6 L707.5,619.7 L708.1,617.8 L708.8,615.9 L709.4,614.0 L710.0,612.1 L710.6,610.2 L711.2,608.3 L711.9,606.4 L712.5,604.5 L713.1,602.6 L713.7,600.7 L714.4,598.8 L715.0,596.9 L715.7,595.1 L716.4,593.2 L717.1,591.3 L717.8,589.4 L718.6,587.6 L719.3,585.7 L720.1,583.9 L720.8,582.0 L721.6,580.2 L722.4,578.3 L723.1,576.5 L723.9,574.6 L724.6,572.8 L725.3,570.9 L726.0,569.0 L726.7,567.1 L727.3,565.3 L727.9,563.3 L728.5,561.4 L729.0,559.5 L729.6,557.6 L730.1,555.7 L730.6,553.7 L731.1,551.8 L731.6,549.8 L732.0,547.9 L732.5,546.0 L733.0,544.0 L733.6,542.1 L734.1,540.2 L734.7,538.2 L735.2,536.3 L735.8,534.4 L736.4,532.5 L737.0,530.6 L737.6,528.7 L738.2,526.8 L738.9,524.9 L739.5,523.0 L740.2,521.1 L740.8,519.2 L741.5,517.3 L742.1,515.4 L742.8,513.6 L743.4,511.7 L744.1,509.8 L744.8,507.9 L745.5,506.0 L746.2,504.1 L746.8,502.3 L747.5,500.4 L748.2,498.5 L748.9,496.6 L749.6,494.8 L750.3,492.9 L751.0,491.0 L751.7,489.1 L752.4,487.2 L753.0,485.4 L753.6,483.5 L754.3,481.6 L754.9,479.7 L755.5,477.7 L756.0,475.8 L756.6,473.9 L757.2,472.0 L757.7,470.1 L758.3,468.1 L758.8,466.2 L759.4,464.3 L760.0,462.4 L760.6,460.5 L761.2,458.6 L761.8,456.7 L762.5,454.8 L763.1,452.9 L763.8,451.0 L764.5,449.2 L765.2,447.3 L766.0,445.4 L766.7,443.6 L767.4,441.7 L768.2,439.9 L768.9,438.0 L769.7,436.1 L770.4,434.3 L771.2,432.4 L771.9,430.6 L772.7,428.7 L773.4,426.9 L774.1,425.0 L774.8,423.1 L775.6,421.3 L776.3,419.4 L777.0,417.5 L777.7,415.7 L778.4,413.8 L779.1,411.9 L779.8,410.0 L780.5,408.2 L781.2,406.3 L781.9,404.4 L782.6,402.5 L783.3,400.7 L784.0,398.8 L784.7,396.9 L785.4,395.0 L786.1,393.2 L786.7,391.3 L787.4,389.4 L788.1,387.5 L788.9,385.7 L789.6,383.8 L790.3,381.9 L791.0,380.1 L791.8,378.2 L792.5,376.4 L793.3,374.5 L794.1,372.7 L794.8,370.8 L795.6,369.0 L796.4,367.2 L797.2,365.3 L798.0,363.5 L798.8,361.6 L799.6,359.8 L800.3,358.0 L801.1,356.1 L801.9,354.3 L802.7,352.4 L803.5,350.6 L804.2,348.7 L805.0,346.9 L805.8,345.1 L806.6,343.2 L807.3,341.4 L808.1,339.5 L808.9,337.7 L809.7,335.9 L810.6,334.1 L811.4,332.2 L812.2,330.4 L813.1,328.6 L813.9,326.8 L814.8,325.0 L815.7,323.2 L816.6,321.4 L817.5,319.6 L818.4,317.8 L819.3,316.1 L820.2,314.3 L821.2,312.5 L822.2,310.8 L823.1,309.1 L824.1,307.3 L825.1,305.6 L826.2,303.9 L827.2,302.2 L828.3,300.5 L829.3,298.8 L830.4,297.1 L831.5,295.4 L832.6,293.7 L833.7,292.1 L834.8,290.4 L835.9,288.7 L837.0,287.1 L838.1,285.4 L839.2,283.7 L840.3,282.1 L841.4,280.4 L842.6,278.8 L843.7,277.1 L844.9,275.5 L846.0,273.9 L847.2,272.3 L848.4,270.7 L849.7,269.1 L850.9,267.5 L852.2,266.0 L853.5,264.5 L854.9,263.0 L856.2,261.6 L857.6,260.1 L859.0,258.7 L860.4,257.3 L861.8,255.8 L863.2,254.5 L864.7,253.1 L866.1,251.7 L867.6,250.3 L869.1,249.0 L870.6,247.6 L872.0,246.3 L873.5,245.0 L875.1,243.7 L876.6,242.4 L878.1,241.1 L879.7,239.9 L881.3,238.7 L882.9,237.5 L884.6,236.4 L886.3,235.3 L888.0,234.3 L889.7,233.3 L891.5,232.4 L893.2,231.5 L895.0,230.6 L896.8,229.7 L898.7,228.9 L900.5,228.1 L902.3,227.3 L904.2,226.6 L906.1,225.9 L907.9,225.2 L909.8,224.5 L911.7,223.9 L913.6,223.3 L915.5,222.7 L917.4,222.1 L919.4,221.6 L921.3,221.1 L923.3,220.6 L925.2,220.2 L927.2,219.8 L929.1,219.4 L931.1,219.0 L933.1,218.7 L935.0,218.4 L937.0,218.1 L939.0,217.8 L941.0,217.6 L943.0,217.4 L945.0,217.3 L947.0,217.1 L948.9,217.0 L950.9,217.0 L952.9,217.0 L954.9,217.0 L956.9,217.1 L958.9,217.2 L960.9,217.3 L962.9,217.4 L964.9,217.6 L966.9,217.9 L968.9,218.1 L970.8,218.4 L972.8,218.8 L974.8,219.1 L976.7,219.5 L978.7,220.0 L980.6,220.4 L982.6,220.9 L984.5,221.4 L986.4,222.0 L988.3,222.6 L990.2,223.2 L992.1,223.8 L994.0,224.4 L995.9,225.1 L997.8,225.8 L999.7,226.5 L1001.5,227.3 L1003.4,228.0 L1005.2,228.7 L1007.1,229.5 L1008.9,230.2 L1010.8,231.0 L1012.7,231.7 L1014.5,232.4 L1016.4,233.2 L1018.2,233.9 L1020.1,234.6 L1022.0,235.3 L1023.8,236.1 L1025.7,236.8 L1027.6,237.6 L1029.4,238.3 L1031.2,239.1 L1033.1,239.9 L1034.9,240.7 L1036.7,241.6 L1038.5,242.4 L1040.3,243.3 L1042.1,244.1 L1043.9,245.0 L1045.8,245.8 L1047.6,246.6 L1049.4,247.5 L1051.2,248.3 L1053.0,249.1 L1054.8,250.0 L1056.6,250.9 L1058.4,251.8 L1060.2,252.7 L1061.9,253.7 L1063.6,254.7 L1065.3,255.8 L1067.0,256.8 L1068.7,257.9 L1070.4,259.0 L1072.1,260.1 L1073.7,261.2 L1075.4,262.3 L1077.1,263.4 L1078.7,264.5 L1080.4,265.7 L1082.0,266.8 L1083.6,268.0 L1085.3,269.1 L1086.9,270.3 L1088.5,271.5 L1090.1,272.6 L1091.8,273.8 L1093.4,275.0 L1095.0,276.1 L1096.6,277.3 L1098.2,278.5 L1099.8,279.7 L1101.4,280.9 L1103.0,282.1 L1104.6,283.3 L1106.2,284.6 L1107.8,285.8 L1109.3,287.0 L1110.9,288.3 L1112.5,289.5 L1114.0,290.8 L1115.6,292.0 L1117.1,293.3 L1118.7,294.6 L1120.2,295.8 L1121.8,297.1 L1123.3,298.4 L1124.8,299.7 L1126.4,300.9 L1127.9,302.2 L1129.5,303.5 L1131.0,304.8 L1132.5,306.1 L1134.0,307.4 L1135.5,308.7 L1137.0,310.0 L1138.5,311.3 L1140.0,312.7 L1141.5,314.0 L1143.0,315.3 L1144.5,316.7 L1146.0,318.0 L1147.5,319.4 L1148.9,320.7 L1150.4,322.1 L1151.9,323.4 L1153.4,324.8 L1154.8,326.1 L1156.3,327.5 L1157.8,328.8 L1159.2,330.2 L1160.7,331.6 L1162.1,333.0 L1163.6,334.3 L1165.0,335.7 L1166.5,337.1 L1167.9,338.5 L1169.3,339.9 L1170.8,341.3 L1172.2,342.7 L1173.6,344.1 L1175.1,345.5 L1176.5,346.9 L1177.9,348.3 L1179.4,349.7 L1180.8,351.1 L1182.2,352.5 L1183.6,353.9 L1185.1,355.3 L1186.5,356.7 L1187.9,358.1 L1189.4,359.4 L1190.8,360.8 L1192.2,362.2 L1193.7,363.6 L1195.1,365.0 L1196.5,366.4 L1198.0,367.8 L1199.4,369.2 L1200.9,370.6 L1202.3,372.0 L1203.8,373.3 L1205.2,374.7 L1206.7,376.1 L1208.1,377.5 L1209.6,378.9 L1211.0,380.2 L1212.5,381.6 L1213.9,383.0 L1215.4,384.4 L1216.8,385.7 L1218.3,387.1 L1219.7,388.5 L1221.1,389.9 L1222.6,391.3 L1224.0,392.7 L1225.5,394.0 L1226.9,395.4 L1228.3,396.8 L1229.8,398.2 L1231.2,399.6 L1232.6,401.0 L1234.1,402.4 L1235.5,403.8 L1236.9,405.3 L1238.3,406.7 L1239.7,408.1 L1241.1,409.5 L1242.5,410.9 L1243.9,412.4 L1245.3,413.8 L1246.7,415.3 L1248.1,416.7 L1249.4,418.2 L1250.8,419.6 L1252.2,421.1 L1253.6,422.5 L1254.9,424.0 L1256.3,425.4 L1257.7,426.9 L1259.0,428.4 L1260.4,429.8 L1261.7,431.3 L1263.1,432.8 L1264.4,434.2 L1265.8,435.7 L1267.1,437.2 L1268.5,438.7 L1269.8,440.2 L1271.2,441.6 L1272.5,443.1 L1273.9,444.6 L1275.2,446.1 L1276.5,447.6 L1277.9,449.0 L1279.2,450.5 L1280.6,452.0 L1281.9,453.5 L1283.2,455.0 L1284.6,456.5 L1285.9,458.0 L1287.3,459.5 L1288.6,460.9 L1289.9,462.4 L1291.2,463.9 L1292.6,465.4 L1293.9,466.9 L1295.2,468.4 L1296.5,469.9 L1297.9,471.4 L1299.2,472.9 L1300.5,474.4 L1301.8,475.9 L1303.1,477.5 L1304.4,479.0 L1305.7,480.5 L1307.1,482.0 L1308.4,483.5 L1309.7,485.0 L1311.0,486.5 L1312.3,488.0 L1313.6,489.6 L1314.9,491.1 L1316.2,492.6 L1317.5,494.1 L1318.8,495.6 L1320.2,497.1 L1321.5,498.6 L1322.8,500.1 L1324.1,501.6 L1325.4,503.1 L1326.8,504.6 L1328.1,506.1 L1329.4,507.6 L1330.8,509.1 L1332.1,510.6 L1333.5,512.0 L1334.8,513.5 L1336.2,515.0 L1337.5,516.5 L1338.9,517.9 L1340.2,519.4 L1341.6,520.9 L1343.0,522.3 L1344.3,523.8 L1345.7,525.2 L1347.1,526.7 L1348.5,528.1 L1349.8,529.6 L1351.2,531.0 L1352.6,532.5 L1354.0,533.9 L1355.4,535.3 L1356.8,536.8 L1358.2,538.2 L1359.6,539.7 L1360.9,541.1 L1362.3,542.5 L1363.7,544.0 L1365.1,545.4 L1366.5,546.9 L1367.9,548.3 L1369.3,549.7 L1370.6,551.2 L1372.0,552.6 L1373.4,554.1 L1374.8,555.5 L1376.2,557.0 L1377.5,558.4 L1378.9,559.9 L1380.3,561.4 L1381.6,562.8 L1383.0,564.3 L1384.3,565.8 L1385.7,567.2 L1387.0,568.7 L1388.4,570.2 L1389.7,571.7 L1391.1,573.1 L1392.4,574.6 L1393.8,576.1 L1395.1,577.6 L1396.5,579.1 L1397.8,580.6 L1399.1,582.0 L1400.5,583.5 L1401.8,585.0 L1403.1,586.5 L1404.5,588.0 L1405.8,589.5 L1407.2,591.0 L1408.5,592.4 L1409.9,593.9 L1411.2,595.4 L1412.5,596.9 L1413.9,598.4 L1415.2,599.8 L1416.6,601.3 L1417.9,602.8 L1419.3,604.3 L1420.7,605.7 L1422.0,607.2 L1423.4,608.7 L1424.7,610.1 L1426.1,611.6 L1427.5,613.0 L1428.9,614.5 L1430.3,615.9 L1431.6,617.4 L1433.0,618.8 L1434.4,620.2 L1435.8,621.7 L1437.2,623.1 L1438.6,624.5 L1440.0,625.9 L1441.4,627.3 L1442.9,628.8 L1444.3,630.2 L1445.7,631.6 L1447.1,633.0 L1448.5,634.4 L1449.9,635.8 L1451.3,637.3 L1452.7,638.7 L1454.2,640.1 L1455.6,641.5 L1457.0,642.9 L1458.4,644.3 L1459.8,645.8 L1461.2,647.2 L1462.6,648.6 L1464.0,650.0 L1465.4,651.5 L1466.8,652.9 L1468.2,654.4 L1469.6,655.8 L1470.9,657.3 L1472.3,658.7 L1473.6,660.2 L1475.0,661.7 L1476.3,663.2 L1477.7,664.6 L1479.0,666.1 L1480.3,667.6 L1481.6,669.2 L1482.9,670.7 L1484.2,672.2 L1485.5,673.7 L1486.8,675.3 L1488.0,676.8 L1489.3,678.4 L1490.6,679.9 L1491.8,681.5 L1493.1,683.0 L1494.3,684.6 L1495.6,686.2 L1496.8,687.7 L1498.1,689.3 L1499.4,690.8 L1500.6,692.4 L1501.9,693.9 L1503.2,695.5 L1504.4,697.0 L1505.7,698.6 L1506.9,700.1 L1508.2,701.7 L1509.4,703.3 L1510.7,704.8 L1511.9,706.4 L1513.2,707.9 L1514.4,709.5 L1515.7,711.0 L1517.0,712.6 L1518.2,714.1 L1519.5,715.7 L1520.8,717.2 L1522.1,718.7 L1523.4,720.2 L1524.8,721.7 L1526.1,723.2 L1527.4,724.7 L1528.8,726.2 L1530.1,727.7 L1531.4,729.2 L1532.8,730.6 L1534.2,732.1 L1535.5,733.6 L1536.9,735.0 L1538.2,736.5 L1539.6,737.9 L1541.0,739.4 L1542.4,740.8 L1543.7,742.3 L1545.1,743.7 L1546.5,745.2 L1547.9,746.6 L1549.3,748.0 L1550.7,749.5 L1552.1,750.9 L1553.5,752.3 L1554.9,753.7 L1556.3,755.2 L1557.7,756.6 L1559.1,758.1 L1560.5,759.5 L1561.8,761.0 L1563.2,762.4 L1564.6,763.9 L1566.0,765.3 L1567.3,766.8 L1568.7,768.3 L1570.0,769.7 L1571.4,771.2 L1572.8,772.6 L1574.1,774.1 L1575.5,775.6 L1576.9,777.0 L1578.2,778.5 L1579.6,779.9 L1581.0,781.4 L1582.4,782.8 L1583.8,784.2 L1585.2,785.7 L1586.6,787.1 L1588.0,788.5 L1589.4,789.9 L1590.8,791.4 L1592.2,792.8 L1593.6,794.2 L1595.0,795.6 L1596.4,797.1 L1597.8,798.5 L1599.2,799.9 L1600.6,801.4 L1602.0,802.8 L1603.4,804.2 L1604.8,805.7 L1606.1,807.1 L1607.5,808.6 L1608.9,810.1 L1610.2,811.5 L1611.6,813.0 L1613.0,814.5 L1614.3,815.9 L1615.7,817.4 L1617.1,818.8 L1618.4,820.3 L1619.8,821.7 L1621.2,823.2 L1622.6,824.6 L1624.0,826.1 L1625.4,827.5 L1626.8,828.9 L1628.2,830.4 L1629.6,831.8 L1631.0,833.2 L1632.4,834.6 L1633.8,836.1 L1635.2,837.5 L1636.6,838.9 L1638.0,840.3 L1639.4,841.8 L1640.8,843.2 L1642.2,844.6 L1643.6,846.0 L1645.0,847.5 L1646.4,848.9 L1647.8,850.3 L1649.2,851.7 L1650.6,853.1 L1652.0,854.6 L1653.4,856.0 L1654.8,857.4 L1656.2,858.8 L1657.6,860.3 L1659.0,861.7 L1660.4,863.1 L1661.8,864.6 L1663.2,866.0 L1664.6,867.5 L1666.0,868.9 L1667.4,870.3 L1668.7,871.8 L1670.1,873.2 L1671.5,874.7 L1672.9,876.1 L1674.3,877.6 L1675.7,879.0 L1677.1,880.5 L1678.4,881.9 L1679.9,883.3 L1681.3,884.7 L1682.7,886.1 L1684.1,887.5 L1685.5,888.9 L1687.0,890.3 L1688.4,891.7 L1689.9,893.1 L1691.3,894.5 L1692.8,895.9 L1694.2,897.2 L1695.7,898.6 L1697.2,899.9 L1698.6,901.3 L1700.1,902.6 L1701.6,904.0 L1703.1,905.3 L1704.6,906.6 L1706.1,907.9 L1707.7,909.2 L1709.2,910.5 L1710.7,911.8 L1712.3,913.0 L1713.8,914.3 L1715.3,915.6 L1716.9,916.9 L1718.4,918.2 L1719.9,919.4 L1721.5,920.7 L1723.0,922.1 L1724.5,923.4 L1726.0,924.7 L1727.5,926.0 L1729.0,927.3 L1730.5,928.6 L1732.0,930.0 L1733.5,931.3 L1735.0,932.6 L1736.5,934.0 L1738.0,935.3 L1739.5,936.6 L1741.0,937.9 L1742.4,939.3 L1744.0,940.6 L1745.5,941.9 L1747.0,943.2 L1748.5,944.5 L1750.0,945.9 L1751.5,947.2 L1753.0,948.5 L1754.5,949.8 L1756.0,951.1 L1757.5,952.5 L1759.0,953.8 L1760.5,955.1 L1762.0,956.4 L1763.5,957.8 L1765.0,959.1 L1766.5,960.4 L1768.0,961.8 L1769.4,963.1 L1770.9,964.4 L1772.4,965.8 L1773.9,967.1 L1775.4,968.4 L1776.9,969.8 L1778.4,971.1 L1779.9,972.4 L1781.4,973.8 L1782.9,975.1 L1784.4,976.4 L1785.9,977.7 L1787.4,979.0 L1788.9,980.3 L1790.4,981.6 L1791.9,982.9 L1793.5,984.2 L1795.0,985.5 L1796.5,986.8 L1798.0,988.1 L1799.5,989.5 L1801.0,990.8 L1802.6,992.1 L1804.1,993.4 L1805.6,994.7 L1807.1,996.0 L1808.6,997.3 L1810.1,998.6 L1811.6,999.9 L1813.1,1001.2 L1814.6,1002.5 L1816.1,1003.9 L1817.6,1005.2 L1819.1,1006.5 L1820.6,1007.8 L1822.1,1009.2 L1823.6,1010.5 L1825.1,1011.8 L1826.6,1013.1 L1828.1,1014.5 L1829.6,1015.8 L1831.1,1017.1 L1832.6,1018.5 L1834.1,1019.8 L1835.6,1021.1 L1837.1,1022.5 L1838.6,1023.8 L1840.1,1025.1 L1841.5,1026.5 L1843.0,1027.8 L1844.5,1029.1 L1846.0,1030.5 L1847.5,1031.8 L1849.0,1033.1 L1850.5,1034.4 L1852.0,1035.8 L1853.5,1037.1 L1855.0,1038.4 L1856.5,1039.8 L1858.0,1041.1 L1859.5,1042.4 L1861.0,1043.8 L1862.5,1045.1 L1864.0,1046.4 L1865.5,1047.7 L1866.9,1049.1 L1868.4,1050.4 L1869.9,1051.7 L1871.4,1053.1 L1872.9,1054.4 L1874.4,1055.7 L1875.9,1057.0 L1877.4,1058.4 L1878.9,1059.7 L1880.4,1061.0 L1881.9,1062.4 L1883.4,1063.7 L1884.9,1065.0 L1886.3,1066.4 L1887.8,1067.7 L1889.3,1069.1 L1890.8,1070.4 L1892.3,1071.7 L1893.8,1073.1 L1895.3,1074.4 L1896.7,1075.8 L1898.2,1077.1 L1899.7,1078.4 L1901.2,1079.8 L1902.7,1081.1 L1904.2,1082.5 L1905.6,1083.8 L1907.1,1085.1 L1908.6,1086.5 L1910.1,1087.8 L1911.6,1089.1 L1913.1,1090.5 L1914.6,1091.8 L1916.1,1093.1 L1917.6,1094.4 L1919.1,1095.8 L1920.6,1097.1 L1922.1,1098.4 L1923.6,1099.7 L1925.1,1101.0 L1926.6,1102.3 L1928.1,1103.6 L1929.7,1104.9 L1931.2,1106.2 L1932.7,1107.6 L1934.2,1108.9 L1935.7,1110.2 L1937.3,1111.4 L1938.8,1112.7 L1940.3,1114.0 L1941.8,1115.3 L1943.4,1116.6 L1944.9,1117.9 L1946.4,1119.2 L1948.0,1120.5 L1949.5,1121.8 L1951.0,1123.0 L1952.6,1124.3 L1954.1,1125.6 L1955.7,1126.9 L1957.2,1128.1 L1958.8,1129.4 L1960.3,1130.7 L1961.9,1131.9 L1963.4,1133.2 L1965.0,1134.4 L1966.5,1135.7 L1968.1,1137.0 L1969.6,1138.2 L1971.2,1139.5 L1972.7,1140.7 L1974.3,1142.0 L1975.9,1143.2 L1977.4,1144.4 L1979.0,1145.7 L1980.6,1146.9 L1982.2,1148.1 L1983.8,1149.4 L1985.3,1150.6 L1986.9,1151.8 L1988.5,1153.0 L1990.1,1154.2 L1991.7,1155.4 L1993.3,1156.6 L1994.9,1157.8 L1996.5,1159.0 L1998.1,1160.2 L1999.7,1161.4 L2001.3,1162.6 L2003.0,1163.7 L2004.6,1164.9 L2006.2,1166.1 L2007.8,1167.3 L2009.4,1168.4 L2011.1,1169.6 L2012.7,1170.8 L2014.3,1172.0 L2015.9,1173.1 L2017.5,1174.3 L2019.1,1175.5 L2020.8,1176.7 L2022.4,1177.9 L2024.0,1179.0 L2025.6,1180.2 L2027.2,1181.4 L2028.8,1182.6 L2030.4,1183.8 L2032.0,1185.0 L2033.7,1186.2 L2035.3,1187.3 L2036.9,1188.5 L2038.5,1189.7 L2040.1,1190.9 L2041.7,1192.1 L2043.3,1193.3 L2044.9,1194.5 L2046.5,1195.7 L2048.1,1196.9 L2049.7,1198.1 L2051.3,1199.3 L2052.9,1200.5 L2054.5,1201.6 L2056.1,1202.8 L2057.7,1204.0 L2059.3,1205.2 L2060.9,1206.4 L2062.5,1207.6 L2064.1,1208.9 L2065.7,1210.1 L2067.3,1211.3 L2068.9,1212.5 L2070.5,1213.7 L2072.1,1214.9 L2073.7,1216.1 L2075.2,1217.4 L2076.8,1218.6 L2078.4,1219.8 L2080.0,1221.1 L2081.5,1222.3 L2083.1,1223.6 L2084.6,1224.8 L2086.2,1226.1 L2087.8,1227.3 L2089.3,1228.6 L2090.9,1229.8 L2092.4,1231.1 L2094.0,1232.3 L2095.6,1233.6 L2097.1,1234.8 L2098.7,1236.1 L2100.3,1237.3 L2101.9,1238.5 L2103.5,1239.7 L2105.0,1240.9 L2106.6,1242.2 L2108.2,1243.4 L2109.8,1244.6 L2111.4,1245.8 L2113.0,1247.0 L2114.6,1248.1 L2116.2,1249.3 L2117.9,1250.5 L2119.5,1251.7 L2121.1,1252.9 L2122.7,1254.0 L2124.3,1255.2 L2126.0,1256.4 L2127.6,1257.5 L2129.2,1258.7 L2130.9,1259.8 L2132.5,1261.0 L2134.1,1262.1 L2135.8,1263.3 L2137.4,1264.4 L2139.1,1265.5 L2140.7,1266.7 L2142.4,1267.8 L2144.0,1269.0 L2145.6,1270.1 L2147.3,1271.3 L2148.9,1272.4 L2150.6,1273.6 L2152.2,1274.7 L2153.8,1275.8 L2155.5,1277.0 L2157.1,1278.1 L2158.8,1279.3 L2160.4,1280.4 L2162.0,1281.6 L2163.7,1282.7 L2165.3,1283.9 L2166.9,1285.0 L2168.6,1286.2 L2170.2,1287.3 L2171.9,1288.5 L2173.5,1289.6 L2175.1,1290.8 L2176.8,1291.9 L2178.4,1293.0 L2180.1,1294.2 L2181.7,1295.3 L2183.3,1296.5 L2185.0,1297.6 L2186.6,1298.8 L2188.3,1299.9 L2189.9,1301.0 L2191.6,1302.2 L2193.2,1303.3 L2194.9,1304.4 L2196.5,1305.5 L2198.2,1306.7 L2199.8,1307.8 L2201.5,1308.9 L2203.2,1310.0 L2204.8,1311.1 L2206.5,1312.2 L2208.1,1313.4 L2209.8,1314.5 L2211.5,1315.6 L2213.1,1316.7 L2214.8,1317.8 L2216.4,1319.0 L2218.1,1320.1 L2219.7,1321.2 L2221.4,1322.3 L2223.0,1323.5 L2224.7,1324.6 L2226.0,1325.5" stroke="#0000a8" stroke-width="14.5" fill="none" stroke-linejoin="round" stroke-linecap="butt"/>
<rect x="335.5" y="60" width="1891.2" height="1522.7" fill="none" stroke="#000" stroke-width="5"/>
<line x1="305" y1="1582.7" x2="336" y2="1582.7" stroke="#000" stroke-width="5"/>
<line x1="320" y1="1437.6" x2="336" y2="1437.6" stroke="#000" stroke-width="5"/>
<line x1="305" y1="1292.5" x2="336" y2="1292.5" stroke="#000" stroke-width="5"/>
<line x1="320" y1="1147.4" x2="336" y2="1147.4" stroke="#000" stroke-width="5"/>
<line x1="305" y1="1002.3" x2="336" y2="1002.3" stroke="#000" stroke-width="5"/>
<line x1="320" y1="857.2" x2="336" y2="857.2" stroke="#000" stroke-width="5"/>
<line x1="305" y1="712.1" x2="336" y2="712.1" stroke="#000" stroke-width="5"/>
<line x1="320" y1="567.0" x2="336" y2="567.0" stroke="#000" stroke-width="5"/>
<line x1="305" y1="421.9" x2="336" y2="421.9" stroke="#000" stroke-width="5"/>
<line x1="320" y1="276.8" x2="336" y2="276.8" stroke="#000" stroke-width="5"/>
<line x1="305" y1="131.7" x2="336" y2="131.7" stroke="#000" stroke-width="5"/>
<line x1="335.3" y1="1582" x2="335.3" y2="1598" stroke="#000" stroke-width="5"/>
<line x1="507.2" y1="1582" x2="507.2" y2="1610.5" stroke="#000" stroke-width="5"/>
<line x1="679.1" y1="1582" x2="679.1" y2="1598" stroke="#000" stroke-width="5"/>
<line x1="851.1" y1="1582" x2="851.1" y2="1610.5" stroke="#000" stroke-width="5"/>
<line x1="1023.0" y1="1582" x2="1023.0" y2="1598" stroke="#000" stroke-width="5"/>
<line x1="1194.9" y1="1582" x2="1194.9" y2="1610.5" stroke="#000" stroke-width="5"/>
<line x1="1366.8" y1="1582" x2="1366.8" y2="1598" stroke="#000" stroke-width="5"/>
<line x1="1538.8" y1="1582" x2="1538.8" y2="1610.5" stroke="#000" stroke-width="5"/>
<line x1="1710.7" y1="1582" x2="1710.7" y2="1598" stroke="#000" stroke-width="5"/>
<line x1="1882.6" y1="1582" x2="1882.6" y2="1610.5" stroke="#000" stroke-width="5"/>
<line x1="2054.6" y1="1582" x2="2054.6" y2="1598" stroke="#000" stroke-width="5"/>
<line x1="2226.5" y1="1582" x2="2226.5" y2="1610.5" stroke="#000" stroke-width="5"/>
<text x="283.5" y="1604.7" text-anchor="end" font-size="79" font-family="'Liberation Sans', Arial, Helvetica, sans-serif" font-weight="bold">0.0</text>
<text x="283.5" y="1314.5" text-anchor="end" font-size="79" font-family="'Liberation Sans', Arial, Helvetica, sans-serif" font-weight="bold">0.2</text>
<text x="283.5" y="1024.3" text-anchor="end" font-size="79" font-family="'Liberation Sans', Arial, Helvetica, sans-serif" font-weight="bold">0.4</text>
<text x="283.5" y="734.1" text-anchor="end" font-size="79" font-family="'Liberation Sans', Arial, Helvetica, sans-serif" font-weight="bold">0.6</text>
<text x="283.5" y="443.9" text-anchor="end" font-size="79" font-family="'Liberation Sans', Arial, Helvetica, sans-serif" font-weight="bold">0.8</text>
<text x="283.5" y="153.7" text-anchor="end" font-size="79" font-family="'Liberation Sans', Arial, Helvetica, sans-serif" font-weight="bold">1.0</text>
<text x="507.2" y="1695" text-anchor="middle" font-size="79" font-family="'Liberation Sans', Arial, Helvetica, sans-serif" font-weight="bold">300</text>
<text x="851.1" y="1695" text-anchor="middle" font-size="79" font-family="'Liberation Sans', Arial, Helvetica, sans-serif" font-weight="bold">400</text>
<text x="1194.9" y="1695" text-anchor="middle" font-size="79" font-family="'Liberation Sans', Arial, Helvetica, sans-serif" font-weight="bold">500</text>
<text x="1538.8" y="1695" text-anchor="middle" font-size="79" font-family="'Liberation Sans', Arial, Helvetica, sans-serif" font-weight="bold">600</text>
<text x="1882.6" y="1695" text-anchor="middle" font-size="79" font-family="'Liberation Sans', Arial, Helvetica, sans-serif" font-weight="bold">700</text>
<text x="2226.5" y="1695" text-anchor="middle" font-size="79" font-family="'Liberation Sans', Arial, Helvetica, sans-serif" font-weight="bold">800</text>
<text x="835.5" y="1818.3" font-size="103.5" font-family="'Liberation Sans', Arial, Helvetica, sans-serif" font-weight="bold" textLength="810" lengthAdjust="spacingAndGlyphs">Wavelength (nm)</text>
<text transform="translate(117.5,1454) rotate(-90)" x="0" y="0" font-size="103.5" font-family="'Liberation Sans', Arial, Helvetica, sans-serif" font-weight="bold" textLength="1269" lengthAdjust="spacingAndGlyphs">Absorbance Intensity (a.u)</text>
<line x1="1258" y1="149.7" x2="1412" y2="149.7" stroke="#0000a8" stroke-width="15.6" stroke-linecap="round"/>
<line x1="1258" y1="304" x2="1412" y2="304" stroke="#ff0000" stroke-width="15.6" stroke-linecap="round"/>
<text x="1428.5" y="169.7" font-size="65.8" font-family="'Liberation Sans', Arial, Helvetica, sans-serif" font-weight="bold" textLength="212" lengthAdjust="spacingAndGlyphs">Ag-TiO</text>
<text x="1644" y="190.5" font-size="65.0" font-family="'Liberation Sans', Arial, Helvetica, sans-serif" font-weight="bold">2</text>
<text x="1698.5" y="169.7" font-size="65.8" font-family="'Liberation Sans', Arial, Helvetica, sans-serif" font-weight="bold" textLength="330" lengthAdjust="spacingAndGlyphs">nanofibers</text>
<text x="1426.5" y="326" font-size="65.8" font-family="'Liberation Sans', Arial, Helvetica, sans-serif" font-weight="bold" textLength="365" lengthAdjust="spacingAndGlyphs">Pristine TiO</text>
<text x="1793" y="344.2" font-size="65.0" font-family="'Liberation Sans', Arial, Helvetica, sans-serif" font-weight="bold">2</text>
<text x="1847" y="326" font-size="65.8" font-family="'Liberation Sans', Arial, Helvetica, sans-serif" font-weight="bold" textLength="330" lengthAdjust="spacingAndGlyphs">nanofibers</text>
<text x="700" y="169.9" font-size="78" font-family="'Liberation Sans', Arial, Helvetica, sans-serif" font-weight="bold">(Ag)</text>
<text x="880" y="166.2" font-size="78" font-family="'Liberation Sans', Arial, Helvetica, sans-serif" font-weight="bold">428</text>
<rect x="937.5" y="180.3" width="18" height="69.4" rx="5" fill="#000"/>
<text x="334" y="677.6" font-size="77" font-family="'Liberation Sans', Arial, Helvetica, sans-serif" font-weight="bold">(TiO</text>
<text x="482" y="697.7" font-size="52" font-family="'Liberation Sans', Arial, Helvetica, sans-serif" font-weight="bold">2</text>
<text x="515" y="681" font-size="78" font-family="'Liberation Sans', Arial, Helvetica, sans-serif" font-weight="bold">)329</text>
<rect x="599.7" y="693" width="17.7" height="71.4" rx="5" fill="#000"/>
<line x1="1566" y1="701.5" x2="1686" y2="701.5" stroke="#1206b4" stroke-width="10.7"/>
<path d="M1684,687.5 L1714,702 L1684,716 Z" fill="#1206b4"/>
<line x1="1035.5" y1="1163.0" x2="871.3" y2="1229.5" stroke="#ff0000" stroke-width="9.7"/>
<path d="M843.5,1240.8 L867.7,1215.3 L878.6,1242.2 Z" fill="#ff0000"/>
</svg>
</body></html>
